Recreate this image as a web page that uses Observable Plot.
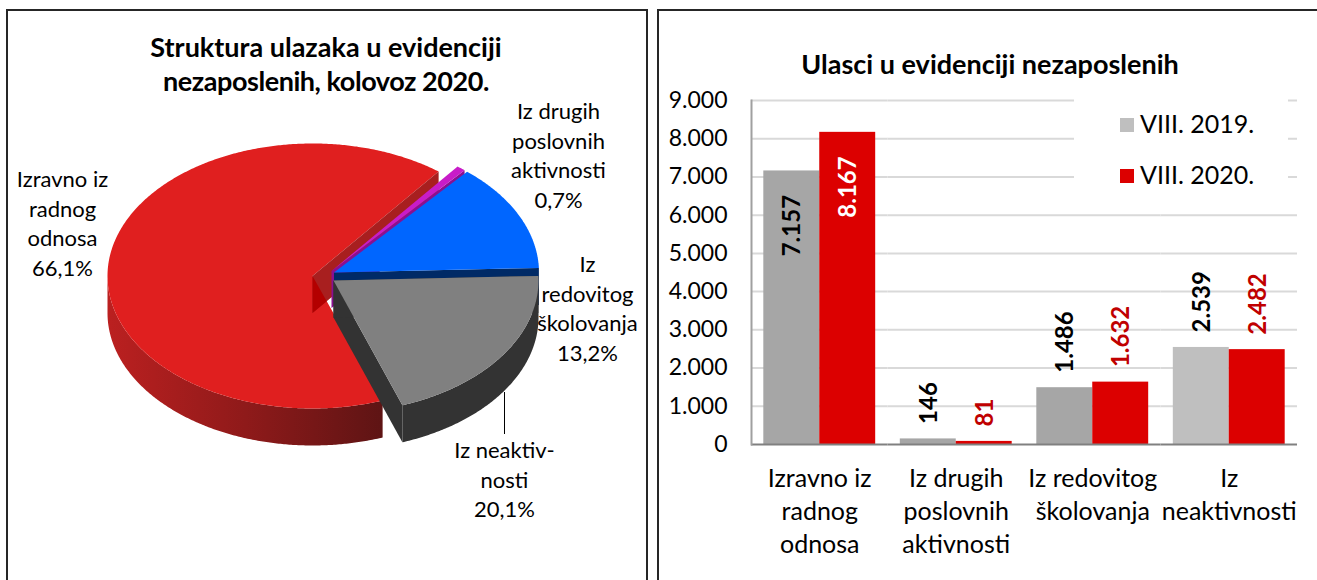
<!DOCTYPE html>
<html>
<head>
<meta charset="utf-8">
<script src="https://cdn.jsdelivr.net/npm/d3@7"></script>
<script src="https://cdn.jsdelivr.net/npm/@observablehq/plot@0.6"></script>
<style>
  html, body { margin: 0; padding: 0; background: #fff; }
  body { width: 1317px; height: 580px; overflow: hidden; position: relative; font-family: Lato, "Noto Sans", sans-serif; color: #000; }
  .panel { position: absolute; top: 9px; height: 600px; border: 2px solid #262626; box-sizing: border-box; }
  #left { left: 6px; width: 642px; }
  #right { left: 657px; width: 700px; }
  .chart { position: absolute; top: 0; }
  .title { position: absolute; text-align: center; font-weight: 700; font-size: 27px; line-height: 34px; white-space: nowrap; }
  #legend { position: absolute; left: 1074px; top: 98px; width: 214px; height: 90px; background: #fff; font-size: 25px; }
  .item { position: absolute; left: 46px; height: 14px; }
  .swatch { position: absolute; left: 0; top: 0; width: 14px; height: 14px; }
  .item span { position: absolute; left: 20px; top: -9px; line-height: 28px; white-space: nowrap; }
</style>
</head>
<body>
<div class="panel" id="left"></div>
<div class="panel" id="right"></div>
<div class="title" style="left:126px;width:400px;top:30px">Struktura ulazaka u evidenciji<br><span style="letter-spacing:-0.45px">nezaposlenih, kolovoz 2020.</span></div>
<div class="title" style="left:790px;width:400px;top:47px">Ulasci u evidenciji nezaposlenih</div>
<div id="pie" class="chart" style="left:0"></div>
<div id="bars" class="chart" style="left:660px"></div>
<div id="legend"></div>
<script>
// ---- data ----
const pieNames = ["Izravno iz\nradnog\nodnosa", "Iz drugih\nposlovnih\naktivnosti", "Iz\nredovitog\nškolovanja", "Iz neaktiv-\nnosti"];
const pieShares = [66.1, 0.7, 13.2, 20.1];

const categories = ["Izravno iz\nradnog\nodnosa", "Iz drugih\nposlovnih\naktivnosti", "Iz redovitog\nškolovanja", "Iz\nneaktivnosti"];
const seriesNames = ["VIII. 2019.", "VIII. 2020."];
const values2019 = [7157, 146, 1486, 2539];
const values2020 = [8167, 81, 1632, 2482];
const yTicks = [0, 1000, 2000, 3000, 4000, 5000, 6000, 7000, 8000, 9000];

// ---- pie (tilted, exploded 3D) ----
const RX = 205, RY = 132.5, DEPTH = 37, START = 160;
const centers = [[312, 275.5], [331, 270.5], [333.5, 272], [333, 280]];
const topColors = ["#e01f1f", "#c81cc8", "#0066ff", "#808080"];
const wallColors = ["#a81f1f", "#8a1090", "#002a66", "#333333"];
const labelPos = [[62, 180], [558, 112], [587, 265], [504, 451]];

let acc = START;
const slices = pieShares.map((share, i) => {
  let a0 = acc; acc += share * 3.6;
  let a1 = acc;
  if (a0 >= 360) { a0 -= 360; a1 -= 360; }
  return {i, a0, a1, c: centers[i]};
});
const pt = (c, a, dz = 0) => ({
  x: c[0] + RX * Math.sin(a * Math.PI / 180),
  y: c[1] - RY * Math.cos(a * Math.PI / 180) + dz
});
const arc = (c, a0, a1, dz = 0) => {
  const n = Math.max(2, Math.ceil(Math.abs(a1 - a0) * 2));
  return d3.range(n + 1).map(k => pt(c, a0 + (a1 - a0) * k / n, dz));
};
const apex = (c, dz = 0) => ({x: c[0], y: c[1] + dz});
const poly = (points, fill) => Plot.line(points, {x: "x", y: "y", fill, stroke: "none", curve: "linear"});

// outer wall: only the part of the rim that faces the viewer
const outerWall = s => {
  const a0 = Math.max(s.a0, 90), a1 = Math.min(s.a1, 270);
  return [...arc(s.c, a0, a1), ...arc(s.c, a1, a0, DEPTH)];
};
const endWall = (c, a) => [apex(c), pt(c, a), pt(c, a, DEPTH), apex(c, DEPTH)];
const topFace = s => [apex(s.c), ...arc(s.c, s.a0, s.a1), apex(s.c)];

const [red, purple, blue, gray] = slices;
// the part of red's end wall that lies over red's own top face
const redEnd = red.a1 - 360;
const redRim0 = pt(red.c, red.a0), redRim1D = pt(red.c, redEnd, DEPTH), rA = apex(red.c), rAD = apex(red.c, DEPTH);
const t = (() => {
  const ux = redRim0.x - rA.x, uy = redRim0.y - rA.y, vx = redRim1D.x - rAD.x, vy = redRim1D.y - rAD.y;
  const w = (rAD.x - rA.x) * vy - (rAD.y - rA.y) * vx;
  return w / (ux * vy - uy * vx);
})();
const redFold = [rA, rAD, {x: rA.x + t * (redRim0.x - rA.x), y: rA.y + t * (redRim0.y - rA.y)}];

const gradient = () => {
  const defs = d3.create("svg:defs");
  const g = defs.append("linearGradient").attr("id", "redWall").attr("x1", 0).attr("x2", 1).attr("y1", 0).attr("y2", 0);
  [["0%", "#bb2020"], ["50%", "#8f1a1a"], ["100%", "#5e1414"]].forEach(([o, c]) => g.append("stop").attr("offset", o).attr("stop-color", c));
  return defs.node();
};

const pieTexts = pieNames.map((n, i) => ({
  text: n + "\n" + String(pieShares[i]).replace(".", ",") + "%",
  x: labelPos[i][0], y: labelPos[i][1]
}));

const pie = Plot.plot({
  width: 650, height: 580, margin: 0,
  x: {domain: [0, 650], axis: null},
  y: {domain: [580, 0], axis: null},
  marks: [
    gradient,
    poly(outerWall(red), "url(#redWall)"),
    poly(topFace(red), topColors[0]),
    poly(endWall(red.c, redEnd), wallColors[0]),
    poly(redFold, "#b30000"),
    poly(endWall(purple.c, purple.a1), wallColors[1]),
    poly(topFace(purple), topColors[1]),
    poly(endWall(blue.c, blue.a1), wallColors[2]),
    poly(outerWall(blue), wallColors[2]),
    poly(topFace(blue), topColors[2]),
    poly(endWall(gray.c, gray.a1), wallColors[3]),
    poly(endWall(gray.c, gray.a0), wallColors[3]),
    poly(outerWall(gray), wallColors[3]),
    poly(topFace(gray), topColors[3]),
    Plot.ruleX([504], {y1: 392, y2: 434, stroke: "#000", strokeWidth: 1}),
    Plot.text(pieTexts, {x: "x", y: "y", text: "text", fontSize: 22, lineHeight: 1.34, textAnchor: "middle", fill: "#000", lineAnchor: "top", dy: -14})
  ]
});
pie.style.fontFamily = "Lato, 'Noto Sans', sans-serif";
document.getElementById("pie").append(pie);

// ---- bars ----
const rows = categories.flatMap((c, i) => [
  {cat: c, series: seriesNames[0], value: values2019[i], k: i},
  {cat: c, series: seriesNames[1], value: values2020[i], k: i}
]);
const barFill = d => d.series === seriesNames[1] ? "#dc0000" : (d.k === 3 ? "#bfbfbf" : "#a6a6a6");
const fmt = d3.formatLocale({decimal: ",", thousands: ".", grouping: [3], currency: ["", ""]}).format(",d");
const inside = rows.filter(d => d.value > 5000);
const outside = rows.filter(d => d.value <= 5000);
const labelStyle = {fx: "cat", x: "series", y: "value", text: d => fmt(d.value), rotate: -90, fontSize: 24, fontWeight: 700, dx: 1};

const bars = Plot.plot({
  width: 657, height: 580,
  marginLeft: 91, marginRight: 20, marginTop: 100, marginBottom: 136,
  fx: {domain: categories, padding: 0, round: false, label: null},
  x: {domain: seriesNames, paddingInner: 0, paddingOuter: 0.22, axis: null, round: false},
  y: {domain: [0, 9000], label: null, axis: null},
  marks: [
    Plot.ruleY(yTicks.slice(1), {stroke: "#d9d9d9", strokeWidth: 2}),
    Plot.barY(rows, {fx: "cat", x: "series", y: "value", fill: barFill}),
    Plot.ruleY([0], {stroke: "#808080", strokeWidth: 2}),
    Plot.frame({anchor: "left", stroke: "#a0a0a0", strokeWidth: 2, facet: "super"}),
    Plot.text(inside, {...labelStyle, textAnchor: "end", dy: 24, fill: d => d.series === seriesNames[1] ? "#fff" : "#000"}),
    Plot.text(outside, {...labelStyle, textAnchor: "start", dy: -15, fill: d => d.series === seriesNames[1] ? "#c00000" : "#000"}),
    Plot.axisY({ticks: yTicks, tickSize: 0, tickPadding: 24, tickFormat: fmt, fontSize: 23, label: null, fill: "#000", marginLeft: 91}),
    Plot.axisFx({domain: categories, anchor: "bottom", tickSize: 0, tickPadding: 19, fontSize: 25, lineHeight: 1.32, label: null, fill: "#000"})
  ]
});
bars.style.fontFamily = "Lato, 'Noto Sans', sans-serif";
document.getElementById("bars").append(bars);

// ---- legend ----
const legend = document.getElementById("legend");
[["#bfbfbf", 20], ["#dc0000", 71]].forEach(([color, top], i) => {
  const item = document.createElement("div");
  item.className = "item";
  item.style.top = top + "px";
  const sw = document.createElement("div");
  sw.className = "swatch";
  sw.style.background = color;
  const label = document.createElement("span");
  label.textContent = seriesNames[i];
  item.append(sw, label);
  legend.append(item);
});
</script>
</body>
</html>
